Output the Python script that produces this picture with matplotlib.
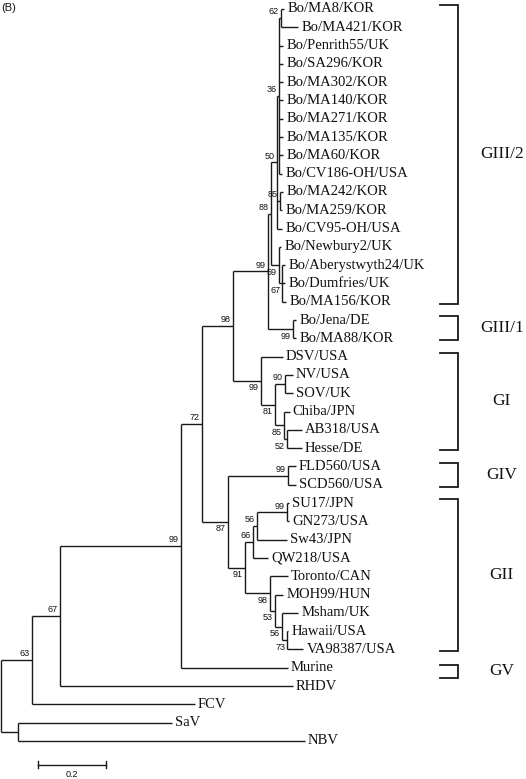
import matplotlib
matplotlib.use('Agg')
import matplotlib.pyplot as plt

### Tree data (newick, branch lengths = substitutions/site, internal labels = bootstrap)
giii_2 = ("(((Bo/MA8/KOR:0.009,Bo/MA421/KOR:0.050)62:0.006,Bo/Penrith55/UK:0.012,"
          "Bo/SA296/KOR:0.012,Bo/MA302/KOR:0.012,Bo/MA140/KOR:0.012,Bo/MA271/KOR:0.012,"
          "Bo/MA135/KOR:0.012,Bo/MA60/KOR:0.012,Bo/CV186-OH/USA:0.009)36:0.006,"
          "(Bo/MA242/KOR:0.009,Bo/MA259/KOR:0.006)85:0.009,Bo/CV95-OH/USA:0.015)50:0.018,"
          "(Bo/Newbury2/UK:0.006,(Bo/Aberystwyth24/UK:0.009,Bo/Dumfries/UK:0.009,"
          "Bo/MA156/KOR:0.012)67:0.009)59:0.024")
giii_1 = "(Bo/Jena/DE:0.009,Bo/MA88/KOR:0.009)99:0.074"
gi = ("(DSV/USA:0.065,((NV/USA:0.024,SOV/UK:0.024)90:0.029,(Chiba/JPN:0.018,"
      "(AB318/USA:0.044,Hesse/DE:0.044)52:0.009)85:0.026)81:0.041)99:0.082")
giv = "(FLD560/USA:0.024,SCD560/USA:0.024)99:0.176"
gii = ("((((SU17/JPN:0.006,GN273/USA:0.006)99:0.088,Sw43/JPN:0.088)56:0.012,QW218/USA:0.044)66:0.024,"
       "(Toronto/CAN:0.053,(MOH99/HUN:0.024,(Msham/UK:0.047,(Hawaii/USA:0.003,"
       "VA98387/USA:0.047)73:0.015)56:0.021)53:0.015)98:0.074)91:0.050")
outgroups = ["Murine:0.315", "RHDV:0.685", "FCV:0.479", "(SaV:0.453,NBV:0.844):0.050"]

tree_newick = ("((((((((" + giii_2 + ")88:0.009," + giii_1 + ")99:0.103," + gi + ")98:0.091,("
               + giv + "," + gii + ")87:0.076)72:0.062," + outgroups[0] + ")99:0.356,"
               + outgroups[1] + ")67:0.082," + outgroups[2] + ")63:0.091," + outgroups[3] + ");")

# genogroup brackets
group_names = ['GIII/2', 'GIII/1', 'GI', 'GIV', 'GII', 'GV']
group_first = ['Bo/MA8/KOR', 'Bo/Jena/DE', 'DSV/USA', 'FLD560/USA', 'SU17/JPN', 'Murine']
group_last = ['Bo/MA156/KOR', 'Bo/MA88/KOR', 'Hesse/DE', 'SCD560/USA', 'VA98387/USA', 'Murine']
scale_len = 0.2


def parse_newick(s):
    pos = 0

    def node():
        nonlocal pos
        n = {'children': [], 'name': '', 'length': 0.0}
        if s[pos] == '(':
            pos += 1
            n['children'].append(node())
            while s[pos] == ',':
                pos += 1
                n['children'].append(node())
            pos += 1  # skip ')'
        start = pos
        while s[pos] not in ',():;':
            pos += 1
        n['name'] = s[start:pos]
        if s[pos] == ':':
            pos += 1
            start = pos
            while s[pos] not in ',();':
                pos += 1
            n['length'] = float(s[start:pos])
        return n
    return node()


leaves = []


def layout(n, x0):
    n['x'] = x0 + n['length']
    if not n['children']:
        n['y'] = len(leaves)
        leaves.append(n)
    else:
        for c in n['children']:
            layout(c, n['x'])
        n['y'] = (n['children'][0]['y'] + n['children'][-1]['y']) / 2


root = parse_newick(tree_newick)
layout(root, 0.0)

fig = plt.figure(figsize=(5.26, 7.79), dpi=100)
ax = fig.add_axes([0, 0, 1, 1])
ax.set_xlim(-0.003, 1.544)
ax.set_ylim(42.08, -0.49)
ax.axis('off')

lc = '#1a1a1a'
lw = 1.0
serif = 'Liberation Serif'
sans = 'Liberation Sans'


def draw(n):
    kids = n['children']
    for i, c in enumerate(kids):
        ax.plot([n['x'], c['x']], [c['y'], c['y']], color=lc, lw=lw, solid_capstyle='butt')
        if c['children'] and c['name']:
            below = (i == len(kids) - 1)
            ax.annotate(c['name'], (c['x'], c['y']), xytext=(-1.5, -2 if below else 1.2),
                        textcoords='offset points', ha='right', va='top' if below else 'bottom',
                        fontsize=6.5, family=sans, color='#111111')
        draw(c)
    if kids:
        ax.plot([n['x'], n['x']], [kids[0]['y'], kids[-1]['y']], color=lc, lw=lw,
                solid_capstyle='butt')
    else:
        ax.annotate(n['name'], (n['x'], n['y']), xytext=(2.2, 0), textcoords='offset points',
                    ha='left', va='center', fontsize=10.5, family=serif, color='#111111')


draw(root)

# genogroup brackets
idx = {lf['name']: lf['y'] for lf in leaves}
tr = ax.get_yaxis_transform()
for name, a, b in zip(group_names, group_first, group_last):
    y0, y1 = idx[a] - 0.2, idx[b] + 0.1
    if a == b:
        y0, y1 = idx[a] - 0.15, idx[b] + 0.55
    ax.plot([0.8365, 0.871, 0.871, 0.8365], [y0, y0, y1, y1], color=lc, lw=1.3,
            transform=tr, solid_joinstyle='miter')
    ax.text(0.954, (y0 + y1) / 2, name, transform=tr, ha='center', va='center',
            fontsize=12.5, family=serif, color='#111111')

# scale bar
sb_x, sb_y = 0.109, 41.3
ax.plot([sb_x, sb_x + scale_len], [sb_y, sb_y], color=lc, lw=1.0)
for xx in (sb_x, sb_x + scale_len):
    ax.plot([xx, xx], [sb_y - 0.2, sb_y + 0.2], color=lc, lw=1.0)
ax.text(sb_x + scale_len / 2, sb_y + 0.3, '0.2', ha='center', va='top', fontsize=6.5,
        family=sans, color='#111111')

fig.text(0.002, 0.996, '(B)', ha='left', va='top', fontsize=8, family=sans, color='#111111')

fig.savefig('out.png', dpi=100)
